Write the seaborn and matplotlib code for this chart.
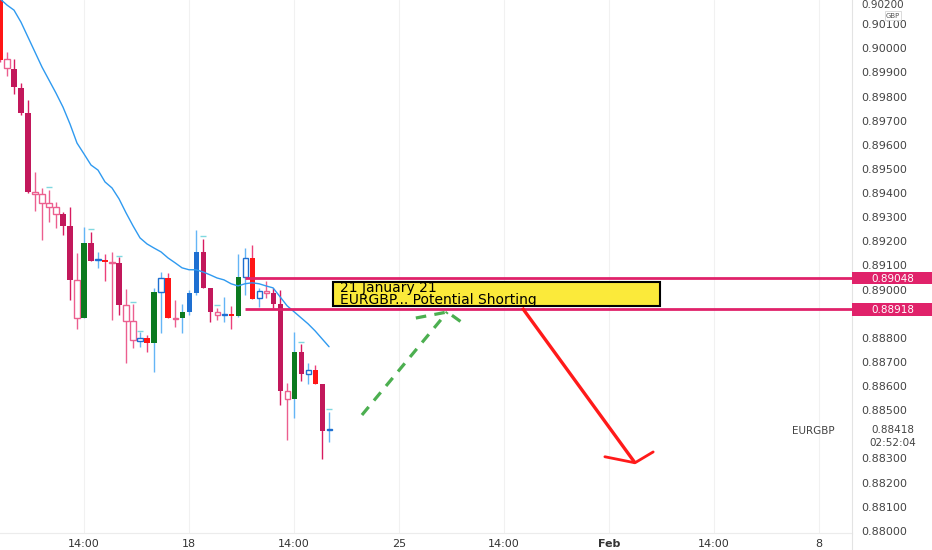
import numpy as np
import pandas as pd
import seaborn as sns
import matplotlib.pyplot as plt
from matplotlib.patches import Rectangle
from matplotlib.lines import Line2D
from matplotlib.transforms import blended_transform_factory

# 4h candles, bar 0 = Mon 18 Jan 00:00 (weekends skipped)
bars = list(range(-27, 21))
opens = [0.90300, 0.89918, 0.89914, 0.89835, 0.89731, 0.89396, 0.89359, 0.89342,
         0.89313, 0.89313, 0.89264, 0.88883, 0.88883, 0.89193, 0.89123, 0.89123,
         0.89111, 0.89111, 0.88871, 0.88792, 0.88788, 0.88800, 0.88779, 0.88991,
         0.89048, 0.88879, 0.88883, 0.88908, 0.88986, 0.89156, 0.89007, 0.88895,
         0.88895, 0.88900, 0.88891, 0.89053, 0.89131, 0.88966, 0.88986, 0.88986,
         0.88941, 0.88547, 0.88547, 0.88742, 0.88651, 0.88668, 0.88610, 0.88418]
highs = [0.90320, 0.89984, 0.89955, 0.89856, 0.89785, 0.89487, 0.89421, 0.89413,
         0.89363, 0.89322, 0.89342, 0.89152, 0.89260, 0.89239, 0.89156, 0.89148,
         0.89156, 0.89135, 0.89003, 0.88941, 0.88825, 0.88813, 0.89007, 0.89073,
         0.89069, 0.88957, 0.88941, 0.88999, 0.89247, 0.89210, 0.89007, 0.88924,
         0.88970, 0.88933, 0.89148, 0.89172, 0.89185, 0.89007, 0.89036, 0.89007,
         0.88999, 0.88614, 0.88825, 0.88775, 0.88697, 0.88688, 0.88610, 0.88494]
lows = [0.89945, 0.89885, 0.89810, 0.89723, 0.89400, 0.89326, 0.89206, 0.89280,
        0.89256, 0.89227, 0.88957, 0.88837, 0.88883, 0.89119, 0.89090, 0.89036,
        0.88875, 0.88895, 0.88697, 0.88759, 0.88763, 0.88742, 0.88660, 0.88821,
        0.88883, 0.88846, 0.88821, 0.88895, 0.88978, 0.89007, 0.88866, 0.88875,
        0.88866, 0.88837, 0.88887, 0.88978, 0.88962, 0.88928, 0.88966, 0.88924,
        0.88523, 0.88378, 0.88469, 0.88622, 0.88610, 0.88610, 0.88299, 0.88370]
closes = [0.89951, 0.89955, 0.89839, 0.89731, 0.89404, 0.89404, 0.89396, 0.89359,
          0.89342, 0.89264, 0.89040, 0.89040, 0.89193, 0.89119, 0.89123, 0.89115,
          0.89115, 0.88937, 0.88937, 0.88871, 0.88800, 0.88779, 0.88991, 0.89048,
          0.88883, 0.88883, 0.88908, 0.88986, 0.89156, 0.89007, 0.88908, 0.88908,
          0.88895, 0.88891, 0.89053, 0.89131, 0.88962, 0.88995, 0.88995, 0.88941,
          0.88581, 0.88581, 0.88742, 0.88651, 0.88668, 0.88610, 0.88415, 0.88418]
candle_kind = ["red", "pinkh", "crimson", "crimson", "crimson", "pinkh", "pinkh", "pinkh",
               "pinkh", "crimson", "crimson", "pinkh", "green", "crimson", "blueh", "red",
               "pinkh", "crimson", "pinkh", "pinkh", "blueh", "red", "green", "blueh",
               "red", "pinkh", "green", "blue", "blue", "crimson", "crimson", "pinkh",
               "blueh", "red", "green", "blueh", "red", "blueh", "pinkh", "crimson",
               "crimson", "pinkh", "green", "crimson", "blueh", "red", "crimson", "blueh"]
ema = [0.90205, 0.90179, 0.90158, 0.90108, 0.90046, 0.89984, 0.89922, 0.89868,
       0.89814, 0.89756, 0.89686, 0.89607, 0.89562, 0.89516, 0.89495, 0.89446,
       0.89421, 0.89376, 0.89318, 0.89264, 0.89214, 0.89189, 0.89172, 0.89156,
       0.89131, 0.89111, 0.89090, 0.89082, 0.89082, 0.89073, 0.89061, 0.89048,
       0.89040, 0.89024, 0.89015, 0.89024, 0.89028, 0.89024, 0.89015, 0.89007,
       0.88970, 0.88933, 0.88908, 0.88883, 0.88858, 0.88829, 0.88796, 0.88763]

# small signal dashes above some candles
marker_bars = [-20, -14, -10, -8, -7, 2, 4, 16, 20]
marker_prices = [0.89425, 0.89250, 0.89140, 0.88949, 0.88830, 0.89222, 0.88937, 0.88784, 0.88506]

level_prices = [0.89048, 0.88918]
last_price = 0.88418

tick_pos = [-15, 0, 15, 30, 45, 60, 75, 90]
tick_labels = ["14:00", "18", "14:00", "25", "14:00", "Feb", "14:00", "8"]
price_ticks = [round(0.880 + 0.001 * i, 3) for i in range(23)]
hidden_ticks = [0.884, 0.889]

note_lines = ["21 January 21", "EURGBP... Potential Shorting"]

# hand-drawn arrows
green_x = [24.7, 36.9]
green_y = [0.88480, 0.88907]
green_head_x = [32.4, 36.9, 39.1]
green_head_y = [0.88882, 0.88907, 0.88861]
red_x = [47.6, 63.7]
red_y = [0.88924, 0.88282]
red_head_x = [59.4, 63.7, 66.3]
red_head_y = [0.88307, 0.88282, 0.88327]

styles = {
    # face, edge, wick, filled
    "crimson": ("#c2185b", "#c2185b", "#d81b60", True),
    "red": ("#ff1616", "#ff1616", "#ec407a", True),
    "green": ("#0b7a1f", "#0b7a1f", "#64b5f6", True),
    "blue": ("#1e6fd1", "#1e6fd1", "#64b5f6", True),
    "pinkh": ("white", "#ec5f8f", "#ec5f8f", False),
    "blueh": ("white", "#1e6fd1", "#64b5f6", False),
}

sns.set_theme(style="white")
plt.rcParams['font.family'] = ['DejaVu Sans']

df = pd.DataFrame({"bar": bars, "open": opens, "high": highs, "low": lows,
                   "close": closes, "kind": candle_kind, "ema": ema})

fig = plt.figure(figsize=(9.32, 5.5), dpi=100, facecolor="white")
ax = fig.add_axes([0, 17 / 550, 852 / 932, 533 / 550])
ax.set_facecolor("white")

# candles
for row in df.itertuples():
    face, edge, wick, filled = styles[row.kind]
    body_lo = min(row.open, row.close)
    body_h = max(abs(row.close - row.open), 0.00004)
    ax.vlines(row.bar, row.low, row.high, color=wick, lw=1, zorder=2)
    ax.bar(row.bar, body_h, bottom=body_lo, width=0.72, color=face,
           edgecolor=edge, linewidth=0 if filled else 1, zorder=3)

ax.scatter(marker_bars, marker_prices, marker="_", s=14, color="#80d8e0", lw=1, zorder=3)

# moving average
sns.lineplot(data=df, x="bar", y="ema", ax=ax, color="#2f9af0", lw=1, zorder=4)

# support / resistance levels
ax.hlines(level_prices, 8, 95, color="#e0226a", lw=2, zorder=5)

# note box
ax.add_patch(Rectangle((20.6, 0.88932), 46.7, 0.00099, facecolor="#fbea3a",
                       edgecolor="black", lw=1.5, zorder=6))
ax.text(21.5, 0.88982, "\n".join(note_lines), fontsize=10, color="black",
        ha="left", va="center", linespacing=0.78, zorder=7)

# arrows
ax.plot(green_x, green_y, color="#4caf50", lw=2.3, dashes=(3.3, 2.6), zorder=6)
ax.plot(green_head_x, green_head_y, color="#4caf50", lw=2.3, dashes=(3.3, 2.6), zorder=6)
ax.plot(red_x, red_y, color="#ff1a1a", lw=2.4, solid_capstyle="butt", zorder=6)
ax.plot(red_head_x, red_head_y, color="#ff1a1a", lw=2.0, zorder=6)

ax.set_xlim(-27, 94.7)
ax.set_ylim(0.87991, 0.902)

# x axis
ax.set_xticks(tick_pos)
ax.set_xticklabels(tick_labels)
ax.get_xticklabels()[5].set_fontweight("bold")
ax.tick_params(axis="x", length=0, pad=4, labelsize=8, labelcolor="#333333")
ax.grid(axis="x", color="#f1f1f1", lw=0.8)
ax.grid(axis="y", visible=False)

# price axis on the right
ax.yaxis.tick_right()
ax.set_yticks(price_ticks)
ax.set_yticklabels(["" if any(abs(v - h) < 1e-6 for h in hidden_ticks) else f"{v:.5f}"
                    for v in price_ticks])
ax.tick_params(axis="y", length=0, pad=7, labelsize=8, labelcolor="#444444")
top_label = ax.get_yticklabels()[-1]
top_label.set_verticalalignment("top")
top_label.set_fontsize(7.5)
ax.set_xlabel("")
ax.set_ylabel("")

for s in ["top", "left"]:
    ax.spines[s].set_visible(False)
ax.spines["right"].set_color("#e3e3e3")
ax.spines["right"].set_linewidth(0.8)
ax.spines["bottom"].set_color("#ececec")
ax.spines["bottom"].set_linewidth(0.8)
fig.add_artist(Line2D([852 / 932, 852 / 932], [0, 17 / 550], color="#e3e3e3", lw=0.8))

# price labels on the axis
trans = blended_transform_factory(ax.transAxes, ax.transData)
for p in level_prices:
    ax.add_patch(Rectangle((1.0, p - 0.00026), 80 / 852, 0.00052, transform=trans,
                           facecolor="#e0226a", edgecolor="none", clip_on=False, zorder=10))
    ax.text(893 / 852, p - 0.00004, f"{p:.5f}", transform=trans, color="white", fontsize=7.5,
            ha="center", va="center", clip_on=False, zorder=11)

ax.text(813 / 852, last_price - 0.00006, "EURGBP", transform=trans, fontsize=7.5,
        color="#444444", ha="center", va="center")
ax.text(893 / 852, last_price - 0.00002, f"{last_price:.5f}", transform=trans,
        fontsize=7.5, color="#444444", ha="center", va="center", clip_on=False)
ax.text(893 / 852, last_price - 0.00055, "02:52:04", transform=trans,
        fontsize=7.5, color="#444444", ha="center", va="center", clip_on=False)

fig.text(893 / 932, 1 - 15.5 / 550, "GBP", fontsize=5, color="#555555", ha="center",
         va="center", bbox=dict(boxstyle="square,pad=0.15", fc="white", ec="#d5d5d5", lw=0.6))

fig.savefig("out.png", dpi=100, facecolor="white")
